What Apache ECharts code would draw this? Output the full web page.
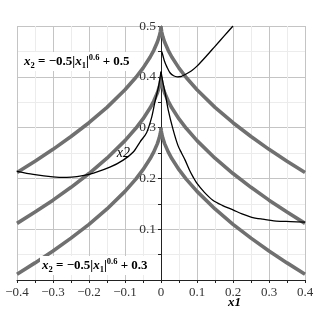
<!DOCTYPE html>
<html>
<head>
<meta charset="utf-8">
<script src="https://cdn.jsdelivr.net/npm/echarts@6/dist/echarts.min.js"></script>
<style>html,body{margin:0;padding:0;background:#fff;}#c{width:319px;height:319px;}</style>
</head>
<body>
<div id="c"></div>
<script>
// ---- data ----
const xTickLabels = ['\u22120.4','\u22120.3','\u22120.2','\u22120.1','0','0.1','0.2','0.3','0.4'];
const yTickLabels = ['', '0.1','0.2','0.3','0.4','0.5'];

const grayX = [-0.4,-0.35,-0.3,-0.25,-0.2,-0.15,-0.1,-0.07,-0.05,-0.03,-0.02,-0.01,-0.005,-0.002,-0.0005,0,
               0.0005,0.002,0.005,0.01,0.02,0.03,0.05,0.07,0.1,0.15,0.2,0.25,0.3,0.35,0.4];
const gray05 = [0.2115,0.2337,0.2572,0.2824,0.3096,0.3398,0.3744,0.3986,0.4171,0.4390,0.4522,0.4685,0.4792,0.4880,0.4948,0.5,
                0.4948,0.4880,0.4792,0.4685,0.4522,0.4390,0.4171,0.3986,0.3744,0.3398,0.3096,0.2824,0.2572,0.2337,0.2115];
const gray04 = [0.1115,0.1337,0.1572,0.1824,0.2096,0.2398,0.2744,0.2986,0.3171,0.3390,0.3522,0.3685,0.3792,0.3880,0.3948,0.4,
                0.3948,0.3880,0.3792,0.3685,0.3522,0.3390,0.3171,0.2986,0.2744,0.2398,0.2096,0.1824,0.1572,0.1337,0.1115];
const gray03 = [0.0115,0.0337,0.0572,0.0824,0.1096,0.1398,0.1744,0.1986,0.2171,0.2390,0.2522,0.2685,0.2792,0.2880,0.2948,0.3,
                0.2948,0.2880,0.2792,0.2685,0.2522,0.2390,0.2171,0.1986,0.1744,0.1398,0.1096,0.0824,0.0572,0.0337,0.0115];

const blackAX = [0.002,0.006,0.01,0.016,0.025,0.035,0.045,0.057,0.071,0.085,0.1,0.125,0.15,0.175,0.2];
const blackAY = [0.45,0.44,0.43,0.42,0.408,0.402,0.4,0.401,0.406,0.412,0.421,0.44,0.46,0.48,0.5];

const blackBX = [0,0.005,0.011,0.02,0.034,0.047,0.057,0.067,0.08,0.089,0.1,0.12,0.144,0.17,0.2,0.225,0.25,0.28,0.32,0.36,0.4];
const blackBY = [0.41,0.39,0.37,0.335,0.295,0.265,0.25,0.236,0.215,0.203,0.19,0.173,0.157,0.147,0.138,0.13,0.124,0.12,0.116,0.115,0.114];

const blackCX = [-0.4,-0.355,-0.3,-0.262,-0.2,-0.142,-0.105,-0.077,-0.058,-0.04,-0.026,-0.017,-0.007,0];
const blackCY = [0.214,0.208,0.203,0.202,0.208,0.222,0.236,0.252,0.272,0.29,0.32,0.35,0.38,0.41];

function pairs(xs, ys){ return xs.map((x,i)=>[x, ys[i]]); }

const chart = echarts.init(document.getElementById('c'));
const serif = 'Liberation Serif';
const xLabelMap = {};
[-0.4,-0.3,-0.2,-0.1,0,0.1,0.2,0.3,0.4].forEach((v,i)=>{ xLabelMap[v.toFixed(1)] = xTickLabels[i]; });

const grayStyle = {color:'#707070', width:3.6};
const blackStyle = {color:'#000', width:1.3};

const rich = {
  i:{fontFamily:serif,fontStyle:'italic',fontWeight:'bold',fontSize:13,color:'#000'},
  sub:{fontFamily:serif,fontWeight:'bold',fontSize:8.5,color:'#000',verticalAlign:'bottom',padding:[6,0,0,0]},
  sup:{fontFamily:serif,fontWeight:'bold',fontSize:8.5,color:'#000',verticalAlign:'top',padding:[0,0,8,0]},
  n:{fontFamily:serif,fontWeight:'bold',fontSize:13,color:'#000'}
};
function eq(c){ return '{i|x}{sub|2}{n| = \u22120.5|}{i|x}{sub|1}{n||}{sup|0.6}{n| + ' + c + '}'; }

const gridLeft = 17, gridRight = 14, W = 319;

chart.setOption({
  animation:false,
  grid:{left:gridLeft,right:gridRight,top:26,bottom:39,containLabel:false,outerBoundsMode:'none'},
  xAxis:{
    type:'value',min:-0.4,max:0.4,interval:0.1,
    axisLine:{onZero:false,lineStyle:{color:'#222',width:1}},
    axisTick:{show:true,length:3,lineStyle:{color:'#222'}},
    minorTick:{show:true,splitNumber:2,length:3,lineStyle:{color:'#222'}},
    splitLine:{show:true,lineStyle:{color:'#c4c4c4',width:1}},
    minorSplitLine:{show:true,lineStyle:{color:'#ececec',width:1}},
    axisLabel:{fontFamily:serif,fontSize:13,color:'#333',margin:6,
      formatter:v=>xLabelMap[v.toFixed(1)] || ''}
  },
  yAxis:{
    type:'value',min:0,max:0.5,interval:0.1,position:'left',
    offset:-(W-gridLeft-gridRight)/2,
    name:'x2',nameLocation:'middle',nameRotate:0,nameGap:31,
    nameTextStyle:{fontFamily:serif,fontStyle:'italic',fontSize:14,color:'#000'},
    axisLine:{onZero:false,lineStyle:{color:'#222',width:1}},
    axisTick:{show:true,length:3,lineStyle:{color:'#222'}},
    minorTick:{show:true,splitNumber:2,length:3,lineStyle:{color:'#222'}},
    splitLine:{show:true,lineStyle:{color:'#c4c4c4',width:1}},
    minorSplitLine:{show:true,lineStyle:{color:'#ececec',width:1}},
    axisLabel:{fontFamily:serif,fontSize:13.5,color:'#333',margin:5,
      formatter:v=>yTickLabels[Math.round(v*10)] || ''}
  },
  graphic:[
    {type:'text',left:22,top:52,z:100,style:{rich:rich,text:eq('0.5'),backgroundColor:'#fff',padding:[1,2]}},
    {type:'text',left:40,top:256,z:100,style:{rich:rich,text:eq('0.3'),backgroundColor:'#fff',padding:[1,2]}},
    {type:'text',left:228,top:296,z:100,style:{text:'x1',fontFamily:serif,fontStyle:'italic',fontWeight:'bold',fontSize:13,fill:'#000'}}
  ],
  series:[
    {type:'line',data:pairs(grayX,gray05),showSymbol:false,lineStyle:grayStyle,clip:true,z:3},
    {type:'line',data:pairs(grayX,gray04),showSymbol:false,lineStyle:grayStyle,clip:true,z:3},
    {type:'line',data:pairs(grayX,gray03),showSymbol:false,lineStyle:grayStyle,clip:true,z:3},
    {type:'line',data:pairs(blackAX,blackAY),showSymbol:false,smooth:0.3,lineStyle:blackStyle,clip:true,z:4},
    {type:'line',data:pairs(blackBX,blackBY),showSymbol:false,smooth:0.3,lineStyle:blackStyle,clip:true,z:4},
    {type:'line',data:pairs(blackCX,blackCY),showSymbol:false,smooth:0.3,lineStyle:blackStyle,clip:true,z:4}
  ]
});
</script>
</body>
</html>
